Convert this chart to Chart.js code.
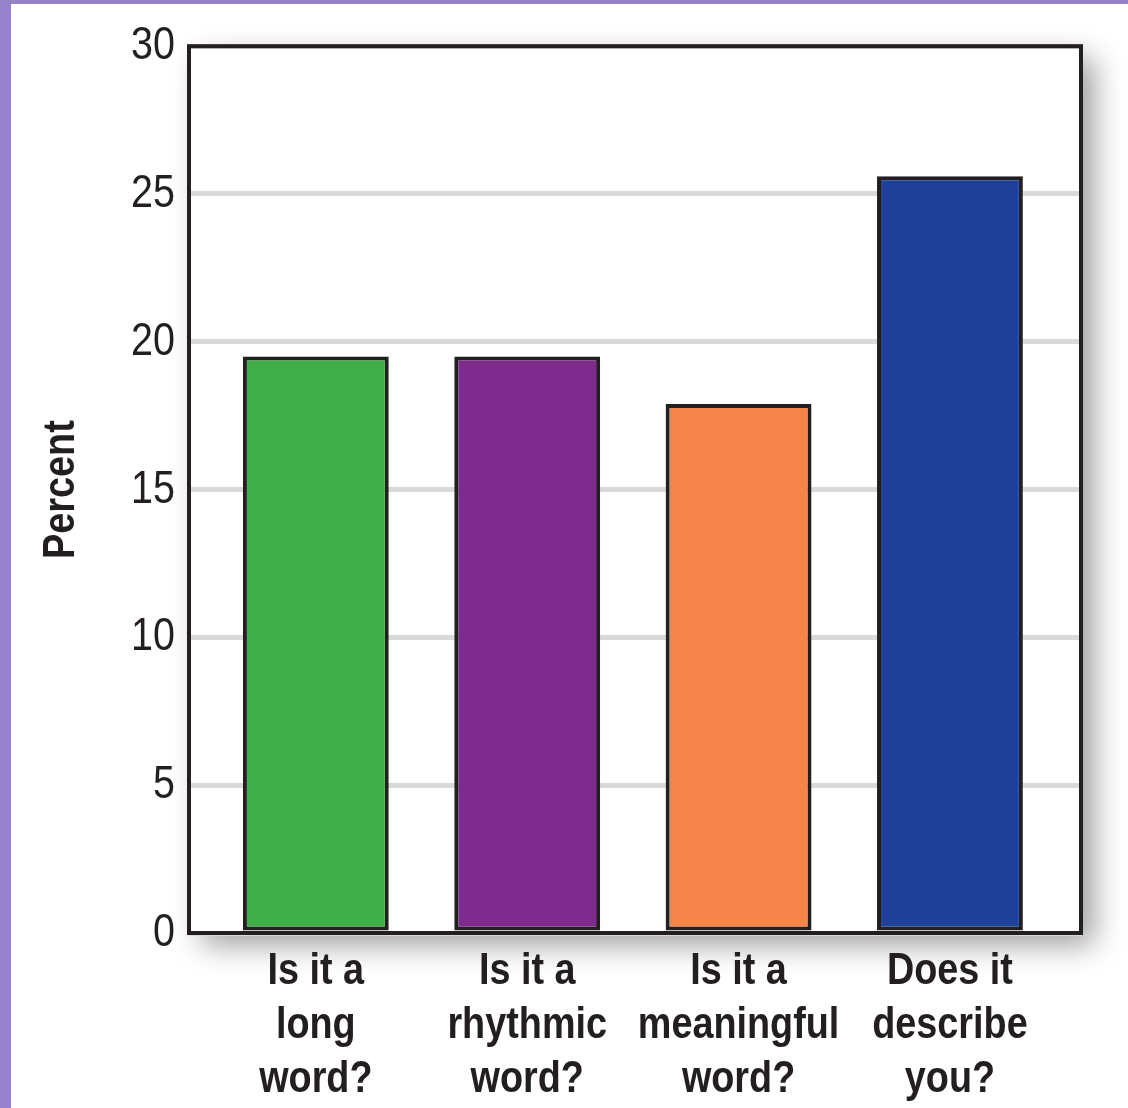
<!DOCTYPE html>
<html>
<head>
<meta charset="utf-8">
<script src="https://cdn.jsdelivr.net/npm/chart.js@4"></script>
<style>
  html, body { margin: 0; padding: 0; }
  body { width: 1128px; height: 1108px; background: #9682cb; position: relative; overflow: hidden; }
  #wrap { position: absolute; left: 11px; top: 4px; width: 1117px; height: 1104px; background: #ffffff; }
  canvas { display: block; }
</style>
</head>
<body>
<div id="wrap"><canvas id="chart" width="1117" height="1104"></canvas></div>
<script>
// Survey responses: share of people choosing each question
const categories = [
  ['Is it a', 'long', 'word?'],
  ['Is it a', 'rhythmic', 'word?'],
  ['Is it a', 'meaningful', 'word?'],
  ['Does it', 'describe', 'you?']
];
const percentValues = [19.5, 19.5, 17.9, 25.6];
const barColors = ['#3fae49', '#7f2b8e', '#f4844a', '#1f419a'];
const yTicks = [0, 5, 10, 15, 20, 25, 30];

const ink = '#231f20';
const face = "'Liberation Sans', Arial, sans-serif";
const condense = 0.84;

// Render all chart text in a condensed width (narrow sans look)
const condensedText = {
  id: 'condensedText',
  beforeDraw(chart) {
    const ctx = chart.ctx;
    if (ctx.__wideFillText) return;
    ctx.__wideFillText = ctx.fillText;
    ctx.fillText = function (text, x, y, maxWidth) {
      const w = this.measureText(text).width * condense;
      const mw = maxWidth === undefined ? w : Math.min(maxWidth, w);
      return this.__wideFillText(text, x, y, mw);
    };
  }
};

// Drop shadow behind the plot panel
const panelShadow = {
  id: 'panelShadow',
  beforeDraw(chart) {
    const { ctx, chartArea: a } = chart;
    ctx.save();
    ctx.shadowColor = 'rgba(0,0,0,0.38)';
    ctx.shadowBlur = 28;
    ctx.shadowOffsetX = 13;
    ctx.shadowOffsetY = 12;
    ctx.fillStyle = '#ffffff';
    ctx.fillRect(a.left, a.top, a.right - a.left, a.bottom - a.top);
    ctx.restore();
  }
};

// Dark frame around the plot panel, drawn over the bars
const panelFrame = {
  id: 'panelFrame',
  afterDatasetsDraw(chart) {
    const { ctx, chartArea: a } = chart;
    ctx.save();
    ctx.strokeStyle = ink;
    ctx.lineWidth = 4;
    ctx.strokeRect(a.left, a.top, a.right - a.left, a.bottom - a.top);
    ctx.restore();
  }
};

new Chart(document.getElementById('chart'), {
  type: 'bar',
  data: {
    datasets: [{
      data: percentValues.map((v, i) => ({ x: i, y: v })),
      backgroundColor: barColors,
      borderColor: ink,
      borderWidth: 4,
      borderSkipped: false,
      barPercentage: 0.69,
      categoryPercentage: 1
    }]
  },
  plugins: [condensedText, panelShadow, panelFrame],
  options: {
    responsive: false,
    animation: false,
    events: [],
    layout: { padding: { top: 42, right: 47, left: 0, bottom: 0 } },
    plugins: { legend: { display: false }, tooltip: { enabled: false } },
    scales: {
      x: {
        type: 'linear',
        offset: false,
        min: -0.6,
        max: 3.62,
        afterBuildTicks(scale) { scale.ticks = categories.map((c, i) => ({ value: i })); },
        afterFit(scale) { scale.height = 175; },
        grid: { display: false, drawTicks: false },
        border: { display: false },
        ticks: {
          color: ink,
          padding: 12,
          autoSkip: false,
          maxRotation: 0,
          font: { family: face, size: 45, weight: 'bold', lineHeight: 1.2 },
          callback: (v) => categories[v]
        }
      },
      y: {
        min: 0,
        max: 30,
        afterBuildTicks(scale) { scale.ticks = yTicks.map(v => ({ value: v })); },
        afterFit(scale) { scale.width = 178; },
        grid: { color: '#d9d9d9', lineWidth: 5, drawTicks: false },
        border: { display: false },
        ticks: {
          color: ink,
          padding: 14,
          font: { family: face, size: 47 }
        },
        title: {
          display: true,
          text: 'Percent',
          color: ink,
          padding: { top: 24, bottom: 0 },
          font: { family: face, size: 45, weight: 'bold', lineHeight: 1.2 }
        }
      }
    }
  }
});
</script>
</body>
</html>
